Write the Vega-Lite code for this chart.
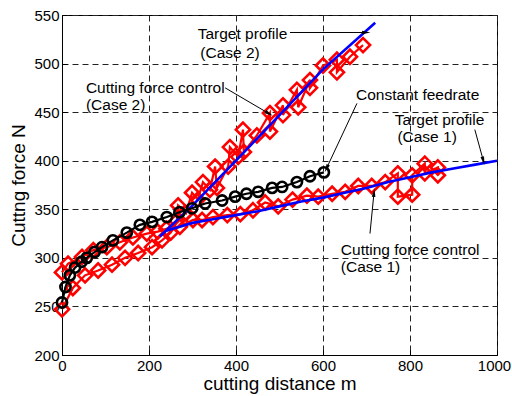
{
  "$schema": "https://vega.github.io/schema/vega-lite/v6.json",
  "width": 435,
  "height": 340,
  "autosize": {"type": "none"},
  "padding": {"left": 62, "top": 15, "right": 15, "bottom": 41},
  "background": "white",
  "config": {
    "view": {"stroke": "black", "strokeWidth": 1},
    "axis": {
      "grid": true, "gridDash": [6, 4], "gridColor": "#222", "gridWidth": 1, "gridOpacity": 1,
      "domainColor": "black", "tickColor": "black", "tickSize": -5,
      "labelColor": "black", "titleColor": "black",
      "labelFont": "Liberation Sans", "titleFont": "Liberation Sans",
      "labelFontSize": 15, "titleFontSize": 19, "titleFontWeight": "normal",
      "labelOverlap": false, "labelBound": false, "labelFlush": false
    }
  },
  "datasets": {
    "curves": [
      {"s":"c1","i":0,"x":0,"y":285},{"s":"c1","i":1,"x":14,"y":294},{"s":"c1","i":2,"x":46,"y":301},{"s":"c1","i":3,"x":72,"y":308},{"s":"c1","i":4,"x":103,"y":311},{"s":"c1","i":5,"x":133,"y":316},{"s":"c1","i":6,"x":163,"y":321},{"s":"c1","i":7,"x":195,"y":325},{"s":"c1","i":8,"x":220,"y":327},{"s":"c1","i":9,"x":240,"y":330},{"s":"c1","i":10,"x":271,"y":332},{"s":"c1","i":11,"x":301,"y":339},{"s":"c1","i":12,"x":322,"y":339},{"s":"c1","i":13,"x":347,"y":342},{"s":"c1","i":14,"x":380,"y":344},{"s":"c1","i":15,"x":410,"y":345},{"s":"c1","i":16,"x":439,"y":349},{"s":"c1","i":17,"x":467,"y":357},{"s":"c1","i":18,"x":497,"y":353},{"s":"c1","i":19,"x":530,"y":360},{"s":"c1","i":20,"x":563,"y":364},{"s":"c1","i":21,"x":589,"y":363},{"s":"c1","i":22,"x":621,"y":366},{"s":"c1","i":23,"x":651,"y":368},{"s":"c1","i":24,"x":681,"y":374},{"s":"c1","i":25,"x":712,"y":374},{"s":"c1","i":26,"x":743,"y":378},{"s":"c1","i":27,"x":772,"y":387},{"s":"c1","i":28,"x":772,"y":363},{"s":"c1","i":29,"x":805,"y":365},{"s":"c1","i":30,"x":805,"y":385},{"s":"c1","i":31,"x":834,"y":397},{"s":"c1","i":32,"x":834,"y":387},{"s":"c1","i":33,"x":864,"y":393},{"s":"c1","i":34,"x":864,"y":385},
      {"s":"c2","i":0,"x":0,"y":247},{"s":"c2","i":1,"x":25,"y":269},{"s":"c2","i":2,"x":53,"y":282},{"s":"c2","i":3,"x":83,"y":287},{"s":"c2","i":4,"x":115,"y":293},{"s":"c2","i":5,"x":145,"y":300},{"s":"c2","i":6,"x":175,"y":305},{"s":"c2","i":7,"x":207,"y":311},{"s":"c2","i":8,"x":230,"y":318},{"s":"c2","i":9,"x":250,"y":326},{"s":"c2","i":10,"x":264,"y":338},{"s":"c2","i":11,"x":267,"y":354},{"s":"c2","i":12,"x":285,"y":346},{"s":"c2","i":13,"x":299,"y":367},{"s":"c2","i":14,"x":312,"y":360},{"s":"c2","i":15,"x":324,"y":378},{"s":"c2","i":16,"x":340,"y":370},{"s":"c2","i":17,"x":352,"y":394},{"s":"c2","i":18,"x":356,"y":372},{"s":"c2","i":19,"x":382,"y":394},{"s":"c2","i":20,"x":386,"y":414},{"s":"c2","i":21,"x":405,"y":404},{"s":"c2","i":22,"x":416,"y":432},{"s":"c2","i":23,"x":418,"y":409},{"s":"c2","i":24,"x":448,"y":426},{"s":"c2","i":25,"x":478,"y":449},{"s":"c2","i":26,"x":478,"y":430},{"s":"c2","i":27,"x":508,"y":457},{"s":"c2","i":28,"x":508,"y":447},{"s":"c2","i":29,"x":540,"y":473},{"s":"c2","i":30,"x":543,"y":455},{"s":"c2","i":31,"x":570,"y":483},{"s":"c2","i":32,"x":570,"y":475},{"s":"c2","i":33,"x":600,"y":498},{"s":"c2","i":34,"x":632,"y":504},{"s":"c2","i":35,"x":632,"y":491},{"s":"c2","i":36,"x":662,"y":507},{"s":"c2","i":37,"x":692,"y":519},
      {"s":"t1","i":0,"x":240,"y":328},{"s":"t1","i":1,"x":300,"y":336},{"s":"t1","i":2,"x":350,"y":340},{"s":"t1","i":3,"x":400,"y":344},{"s":"t1","i":4,"x":450,"y":348},{"s":"t1","i":5,"x":500,"y":353},{"s":"t1","i":6,"x":550,"y":358},{"s":"t1","i":7,"x":600,"y":362},{"s":"t1","i":8,"x":650,"y":367},{"s":"t1","i":9,"x":700,"y":372},{"s":"t1","i":10,"x":750,"y":378},{"s":"t1","i":11,"x":800,"y":383},{"s":"t1","i":12,"x":850,"y":388},{"s":"t1","i":13,"x":900,"y":392},{"s":"t1","i":14,"x":950,"y":396},{"s":"t1","i":15,"x":1000,"y":400},
      {"s":"t2","i":0,"x":225,"y":322},{"s":"t2","i":1,"x":300,"y":354},{"s":"t2","i":2,"x":400,"y":400},{"s":"t2","i":3,"x":500,"y":447},{"s":"t2","i":4,"x":600,"y":494},{"s":"t2","i":5,"x":720,"y":542},
      {"s":"cf","i":0,"x":0,"y":254},{"s":"cf","i":1,"x":8,"y":270},{"s":"cf","i":2,"x":18,"y":282},{"s":"cf","i":3,"x":30,"y":290},{"s":"cf","i":4,"x":45,"y":296},{"s":"cf","i":5,"x":57,"y":300},{"s":"cf","i":6,"x":75,"y":306},{"s":"cf","i":7,"x":92,"y":311},{"s":"cf","i":8,"x":117,"y":318},{"s":"cf","i":9,"x":149,"y":326},{"s":"cf","i":10,"x":179,"y":334},{"s":"cf","i":11,"x":207,"y":337},{"s":"cf","i":12,"x":241,"y":342},{"s":"cf","i":13,"x":270,"y":347},{"s":"cf","i":14,"x":299,"y":351},{"s":"cf","i":15,"x":329,"y":356},{"s":"cf","i":16,"x":368,"y":359},{"s":"cf","i":17,"x":398,"y":363},{"s":"cf","i":18,"x":424,"y":366},{"s":"cf","i":19,"x":451,"y":368},{"s":"cf","i":20,"x":483,"y":372},{"s":"cf","i":21,"x":506,"y":373},{"s":"cf","i":22,"x":540,"y":378},{"s":"cf","i":23,"x":570,"y":384},{"s":"cf","i":24,"x":602,"y":388}
    ],
    "labels": [
      {"x":312,"y":525,"t":"Target profile"},{"x":318,"y":506,"t":"(Case 2)"},
      {"x":55,"y":470,"t":"Cutting force control"},{"x":55,"y":452,"t":"(Case 2)"},
      {"x":676,"y":463,"t":"Constant feedrate"},
      {"x":765,"y":437,"t":"Target profile"},{"x":771,"y":419,"t":"(Case 1)"},
      {"x":641,"y":303,"t":"Cutting force control"},{"x":641,"y":285,"t":"(Case 1)"}
    ],
    "arrows": [
      {"x":524,"y":532,"x2":697,"y2":532,"a":90},
      {"x":375,"y":475,"x2":474,"y2":449,"a":120},
      {"x":678,"y":459,"x2":609,"y2":393,"a":205},
      {"x":949,"y":432,"x2":968,"y2":401,"a":165},
      {"x":708,"y":325,"x2":717,"y2":366,"a":6}
    ]
  },
  "encoding": {
    "x": {"type": "quantitative"},
    "y": {"type": "quantitative"}
  },
  "layer": [
    {
      "data": {"name": "curves"},
      "transform": [{"filter": "datum.s === 'c1' || datum.s === 'c2'"}],
      "mark": {"type": "line", "color": "#ff0000", "strokeWidth": 2.2,
               "point": {"shape": "diamond", "filled": false, "size": 200, "stroke": "#ff0000", "strokeWidth": 2.6}},
      "encoding": {
        "x": {"field": "x", "type": "quantitative", "scale": {"domain": [0, 1000], "nice": false},
              "axis": {"values": [0, 200, 400, 600, 800, 1000], "format": "d", "title": "cutting distance m", "labelPadding": 8, "titlePadding": 1,
                       "labelOffset": {"condition": {"test": "datum.value === 1000", "value": -3}, "value": 0}}},
        "y": {"field": "y", "type": "quantitative", "scale": {"domain": [200, 550], "nice": false},
              "axis": {"values": [200, 250, 300, 350, 400, 450, 500, 550], "format": "d", "title": "Cuttng force N", "labelPadding": 8, "titlePadding": 5}},
        "detail": {"field": "s"},
        "order": {"field": "i", "type": "quantitative"}
      }
    },
    {
      "data": {"name": "curves"},
      "transform": [{"filter": "datum.s === 't1' || datum.s === 't2'"}],
      "mark": {"type": "line", "color": "#0000ff", "strokeWidth": 2.6},
      "encoding": {
        "x": {"field": "x", "type": "quantitative"},
        "y": {"field": "y", "type": "quantitative"},
        "detail": {"field": "s"},
        "order": {"field": "i", "type": "quantitative"}
      }
    },
    {
      "data": {"name": "curves"},
      "transform": [{"filter": "datum.s === 'cf'"}],
      "mark": {"type": "line", "color": "black", "strokeWidth": 2.2,
               "point": {"shape": "circle", "filled": false, "size": 105, "stroke": "black", "strokeWidth": 2.6}},
      "encoding": {
        "x": {"field": "x", "type": "quantitative"},
        "y": {"field": "y", "type": "quantitative"},
        "order": {"field": "i", "type": "quantitative"}
      }
    },
    {
      "data": {"name": "arrows"},
      "mark": {"type": "rule", "color": "black", "strokeWidth": 1},
      "encoding": {
        "x": {"field": "x", "type": "quantitative"},
        "y": {"field": "y", "type": "quantitative"},
        "x2": {"field": "x2"},
        "y2": {"field": "y2"}
      }
    },
    {
      "data": {"name": "arrows"},
      "mark": {"type": "point", "shape": "M0,-1L0.35,0.6L-0.35,0.6Z", "filled": true, "color": "black", "size": 110, "opacity": 1},
      "encoding": {
        "x": {"field": "x2", "type": "quantitative"},
        "y": {"field": "y2", "type": "quantitative"},
        "angle": {"field": "a", "type": "quantitative", "scale": null}
      }
    },
    {
      "data": {"name": "labels"},
      "mark": {"type": "text", "align": "left", "baseline": "alphabetic", "font": "Liberation Sans", "fontSize": 15.5, "color": "black"},
      "encoding": {
        "x": {"field": "x", "type": "quantitative"},
        "y": {"field": "y", "type": "quantitative"},
        "text": {"field": "t"}
      }
    }
  ]
}
